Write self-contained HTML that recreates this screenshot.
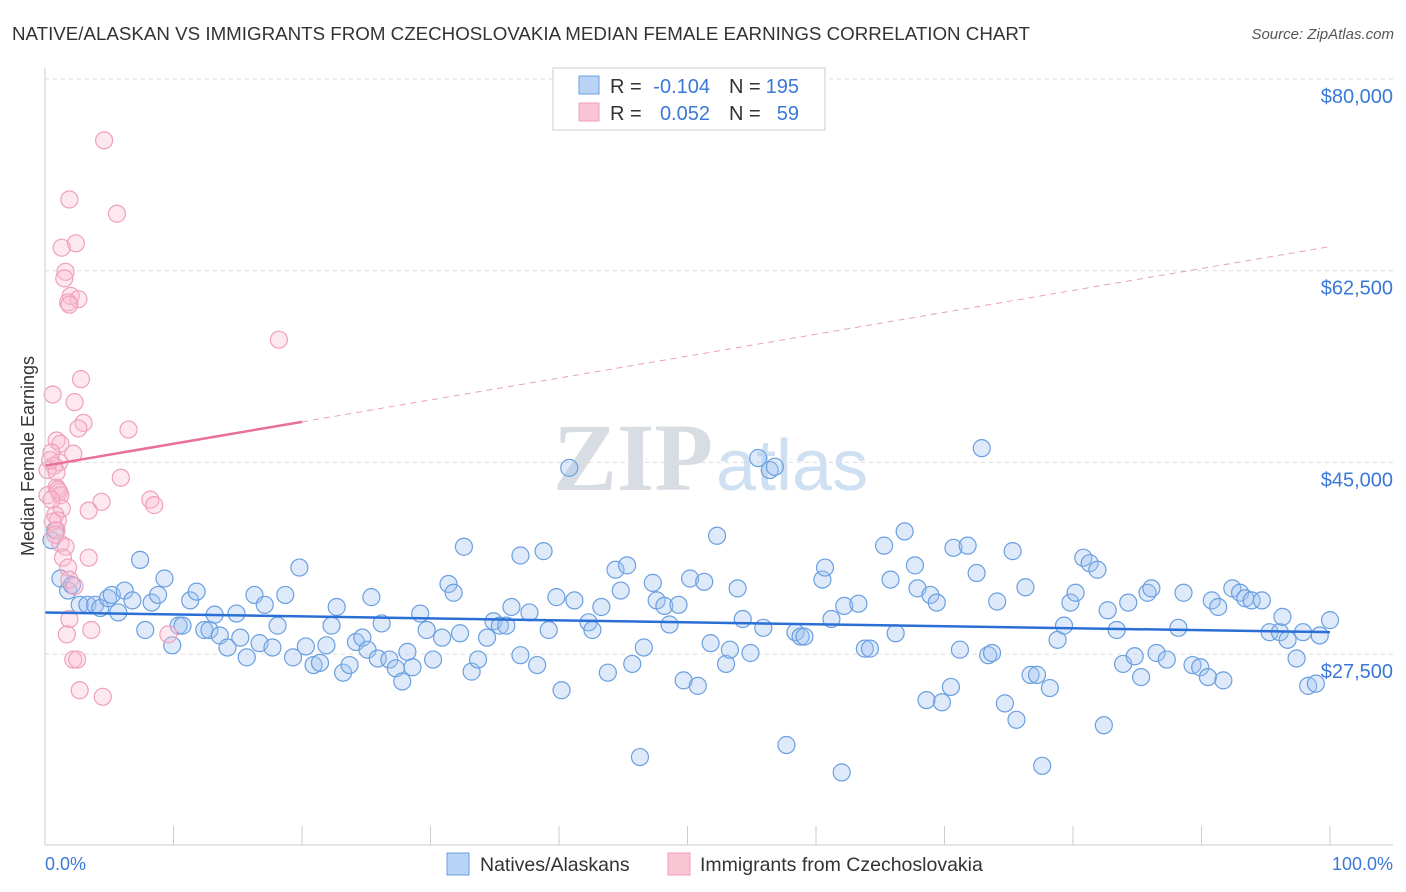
<!DOCTYPE html>
<html><head><meta charset="utf-8">
<style>
body{margin:0;background:#fff;font-family:"Liberation Sans",sans-serif;}
#wrap{position:relative;width:1406px;height:892px;overflow:hidden;}
</style></head>
<body>
<div id="wrap">
<svg id="svg" width="1406" height="892" xmlns="http://www.w3.org/2000/svg">
<text x="12" y="40" font-size="18" fill="#333" textLength="1018" lengthAdjust="spacingAndGlyphs">NATIVE/ALASKAN VS IMMIGRANTS FROM CZECHOSLOVAKIA MEDIAN FEMALE EARNINGS CORRELATION CHART</text>
<text x="1394" y="39" font-size="15" fill="#555" text-anchor="end" font-style="italic">Source: ZipAtlas.com</text>
<text x="713" y="490" font-size="96" fill="#d8dde4" text-anchor="end" font-family="Liberation Serif,serif" font-weight="bold">ZIP</text>
<text x="716" y="490" font-size="72" fill="#cfe0f3">atlas</text>
<text transform="translate(34,456) rotate(-90)" font-size="18" fill="#333" text-anchor="middle">Median Female Earnings</text>
<g id="grid"></g><g id="pts"></g><g id="trend"></g>
<line x1="45" y1="845" x2="1393" y2="845" stroke="#ccc"/>
<line x1="45" y1="68" x2="45" y2="845" stroke="#ccc"/>
<text x="45" y="870" font-size="18" fill="#3a78d8">0.0%</text>
<text x="1393" y="870" font-size="18" fill="#3a78d8" text-anchor="end">100.0%</text>
<g>
<rect x="553" y="68" width="272" height="62" fill="#fff" stroke="#ccc"/>
<rect x="579" y="76" width="20" height="18" fill="#b8d3f5" stroke="#6a9fe0"/>
<rect x="579" y="103" width="20" height="18" fill="#f9c5d5" stroke="#f0a0b8"/>
<text x="610" y="93" font-size="20" fill="#333">R =</text>
<text x="710" y="93" font-size="20" fill="#3a78d8" text-anchor="end">-0.104</text>
<text x="729" y="93" font-size="20" fill="#333">N =</text>
<text x="799" y="93" font-size="20" fill="#3a78d8" text-anchor="end">195</text>
<text x="610" y="120" font-size="20" fill="#333">R =</text>
<text x="710" y="120" font-size="20" fill="#3a78d8" text-anchor="end">0.052</text>
<text x="729" y="120" font-size="20" fill="#333">N =</text>
<text x="799" y="120" font-size="20" fill="#3a78d8" text-anchor="end">59</text>
</g>
<g>
<rect x="447" y="853" width="22" height="22" fill="#b8d3f5" stroke="#6a9fe0"/>
<text x="480" y="871" font-size="19.5" fill="#333">Natives/Alaskans</text>
<rect x="668" y="853" width="22" height="22" fill="#f9c5d5" stroke="#f0a0b8"/>
<text x="700" y="871" font-size="19.5" fill="#333">Immigrants from Czechoslovakia</text>
</g>
</svg>
</div>
<script>
const yTicks=[80,62.5,45,27.5];
const yTickLabels=["$80,000","$62,500","$45,000","$27,500"];
const xTicks=[0,10,20,30,40,50,60,70,80,90,100];
const blueX=[0.5,0.8,1.2,1.8,2.1,2.7,3.3,3.9,4.3,4.9,5.2,5.7,6.2,6.8,7.4,7.8,8.3,8.8,9.3,9.9,10.4,10.7,11.3,11.8,12.4,12.8,13.2,13.6,14.2,14.9,15.2,15.7,16.3,16.7,17.1,17.7,18.1,18.7,19.3,19.8,20.3,20.9,21.4,21.9,22.3,22.7,23.2,23.7,24.2,24.7,25.1,25.4,25.9,26.2,26.8,27.3,27.8,28.2,28.6,29.2,29.7,30.2,30.9,31.4,31.8,32.3,32.6,33.2,33.7,34.4,34.9,35.4,35.9,36.3,37.0,37.0,37.7,38.3,38.8,39.2,39.8,40.2,40.8,41.2,42.3,42.6,43.3,43.8,44.4,44.8,45.3,45.7,46.3,46.6,47.3,47.6,48.2,48.6,49.3,49.7,50.2,50.8,51.3,51.8,52.3,53.0,53.3,53.9,54.3,54.9,55.5,55.9,56.4,56.8,57.7,58.4,58.8,59.1,60.5,60.7,61.2,62.0,62.2,63.3,63.8,64.2,65.3,65.8,66.2,66.9,67.7,67.9,68.6,68.9,69.4,69.8,70.5,70.7,71.2,71.8,72.5,72.9,73.4,73.7,74.1,74.7,75.3,75.6,76.3,76.7,77.2,77.6,78.2,78.8,79.3,79.8,80.2,80.8,81.3,81.9,82.4,82.7,83.4,83.9,84.3,84.8,85.3,85.8,86.1,86.5,87.3,88.2,88.6,89.3,89.9,90.5,90.8,91.3,91.7,92.4,93.0,93.4,93.9,94.7,95.3,96.1,96.3,96.7,97.4,97.9,98.3,98.9,99.2,100];
const blueY=[37.9,38.8,34.4,33.3,33.8,32.0,32.0,32.0,31.7,32.6,32.9,31.3,33.3,32.4,36.1,29.7,32.2,32.9,34.4,28.3,30.1,30.1,32.4,33.2,29.7,29.7,31.1,29.2,28.1,31.2,29.0,27.2,32.9,28.5,32.0,28.1,30.1,32.9,27.2,35.4,28.2,26.5,26.7,28.3,30.1,31.8,25.8,26.5,28.6,29.0,27.9,32.7,27.1,30.3,27.0,26.2,25.0,27.7,26.3,31.2,29.7,27.0,29.0,33.9,33.1,29.4,37.3,25.9,27.0,29.0,30.5,30.1,30.1,31.8,27.4,36.5,31.3,26.5,36.9,29.7,32.7,24.2,44.5,32.4,30.4,29.7,31.8,25.8,35.2,33.3,35.6,26.6,18.1,28.1,34.0,32.4,31.9,30.2,32.0,25.1,34.4,24.6,34.1,28.5,38.3,26.6,27.9,33.5,30.7,27.6,45.4,29.9,44.3,44.6,19.2,29.5,29.1,29.1,34.3,35.4,30.7,16.7,31.9,32.1,28.0,28.0,37.4,34.3,29.4,38.7,35.6,33.5,23.3,32.9,32.2,23.1,24.5,37.2,27.9,37.4,34.9,46.3,27.4,27.6,32.3,23.0,36.9,21.5,33.6,25.6,25.6,17.3,24.4,28.8,30.1,32.2,33.1,36.3,35.8,35.2,21.0,31.5,29.7,26.6,32.2,27.3,25.4,33.1,33.5,27.6,27.0,29.9,33.1,26.5,26.3,25.4,32.4,31.8,25.1,33.5,33.1,32.6,32.4,32.4,29.5,29.5,30.9,28.8,27.1,29.5,24.6,24.8,29.2,30.6];
const pinkX=[4.6,1.9,5.6,2.4,1.3,1.6,1.5,2.0,2.6,1.8,1.9,18.2,2.8,0.6,2.3,3.0,6.5,2.6,0.9,1.2,0.5,2.2,1.1,0.7,0.2,0.9,5.9,0.9,1.1,1.2,0.2,8.2,4.4,8.5,1.3,3.4,0.8,1.0,0.6,0.9,1.2,1.6,1.4,3.4,1.8,1.9,2.3,1.9,9.6,3.6,1.7,2.2,2.5,2.7,4.5,1.0,0.4,0.5,0.8];
const pinkY=[74.4,69.0,67.7,65.0,64.6,62.4,61.8,60.2,59.9,59.6,59.4,56.2,52.6,51.2,50.5,48.6,48.0,48.1,47.0,46.7,45.9,45.8,45.0,44.7,44.3,44.1,43.6,42.7,42.3,42.0,42.0,41.6,41.4,41.1,40.8,40.6,40.2,39.7,39.6,38.8,37.6,37.3,36.3,36.3,35.4,34.3,33.7,30.7,29.3,29.7,29.3,27.0,27.0,24.2,23.6,42.5,45.2,41.6,38.4];
const blueTrend=[31.3,29.5];
const pinkTrend=[44.7,64.7];
const pinkSolidEnd=20;

const NS="http://www.w3.org/2000/svg";
const xs=v=>45+v*12.85;
const ys=v=>79+(80-v)*10.954;
function mk(tag,attrs,parent){const e=document.createElementNS(NS,tag);for(const k in attrs)e.setAttribute(k,attrs[k]);document.getElementById(parent).appendChild(e);return e;}
yTicks.forEach((t,i)=>{
  const l=mk('line',{x1:45,x2:1393,y1:ys(t),y2:ys(t),stroke:'#ddd','stroke-dasharray':'4,4'},'grid');
  
  
  const tx=mk('text',{x:1393,y:ys(t)+24,'font-size':20,fill:'#3a78d8','text-anchor':'end'},'grid');
  tx.textContent=yTickLabels[i];
  
  
});
xTicks.forEach(t=>{
  const l=mk('line',{x1:xs(t),x2:xs(t),y1:826,y2:845,stroke:'#ccc'},'grid');
  
  
});
blueX.forEach((x,i)=>{
  const c=mk('circle',{cx:xs(x),cy:ys(blueY[i]),r:8.5,fill:'rgba(160,195,240,0.35)',stroke:'#6a9fe0','stroke-width':1.2},'pts');
  
  
});
pinkX.forEach((x,i)=>{
  const c=mk('circle',{cx:xs(x),cy:ys(pinkY[i]),r:8.5,fill:'rgba(248,190,210,0.35)',stroke:'#f0a0b8','stroke-width':1.2},'pts');
  
  
});
const bl=mk('line',{x1:xs(0),y1:ys(blueTrend[0]),x2:xs(100),y2:ys(blueTrend[1]),stroke:'#2a6fd6','stroke-width':2.5},'trend');


const pm=pinkTrend[0]+(pinkTrend[1]-pinkTrend[0])*pinkSolidEnd/100;
const pl=mk('line',{x1:xs(0),y1:ys(pinkTrend[0]),x2:xs(pinkSolidEnd),y2:ys(pm),stroke:'#e8709a','stroke-width':2.5},'trend');


const pd=mk('line',{x1:xs(pinkSolidEnd),y1:ys(pm),x2:xs(100),y2:ys(pinkTrend[1]),stroke:'#eaa0b8','stroke-width':1,'stroke-dasharray':'6,5'},'trend');


</script>
</body></html>
